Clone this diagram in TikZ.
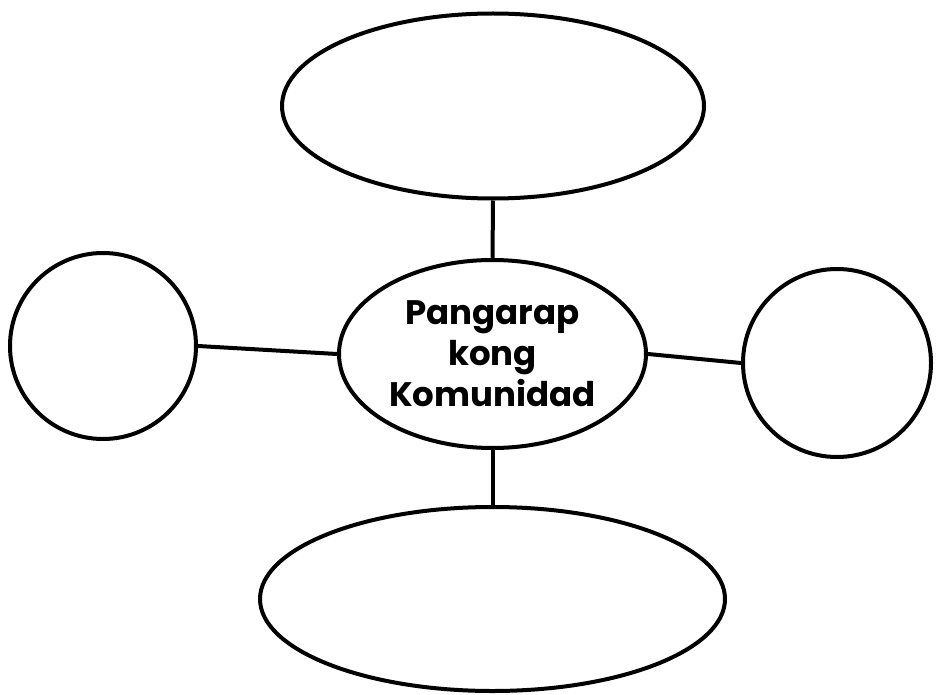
\documentclass[tikz,border=0pt]{standalone}
\usepackage{fontspec}
\setmainfont{Poppins}
\usepackage{tikz}
\usetikzlibrary{shapes.geometric}
\usetikzlibrary{positioning}

\begin{document}
\begin{tikzpicture}
    [
    x=0.5pt, y=-0.5pt, line width=2pt,
    %Vorlagen
    bubble/.style={draw=black, ellipse, inner sep=0pt},
    ring/.style={draw=black, circle, inner sep=0pt},
    link/.style={draw=black, line width=2pt}
    ]
    
    %Rahmen
    \useasboundingbox (0,0) rectangle (936,695);
    
    %Mitte
    \node[bubble, minimum width=153.5pt, minimum height=94pt, align=center,
    font=\bfseries\fontsize{17}{20.5}\selectfont] (hub) at (492.5,354)
    {Pangarap\\kong\\Komunidad};
    
    %oben und unten
    \node[bubble, minimum width=211pt, minimum height=92.5pt] (top) at (493,106) {};
    \node[bubble, minimum width=232.5pt, minimum height=92pt] (bottom) at (492.5,599) {};
    
    %links und rechts
    \node[ring, minimum size=93pt] (left) at (103,346) {};
    \node[ring, minimum size=94pt] (right) at (837,363) {};
    
    %Verbindungen
    \draw[link] (top.south) -- (hub.north);
    \draw[link] (hub.south) -- (bottom.north);
    \draw[link] (left.east) -- (hub.west);
    \draw[link] (hub.east) -- (right.west);
\end{tikzpicture}
\end{document}
